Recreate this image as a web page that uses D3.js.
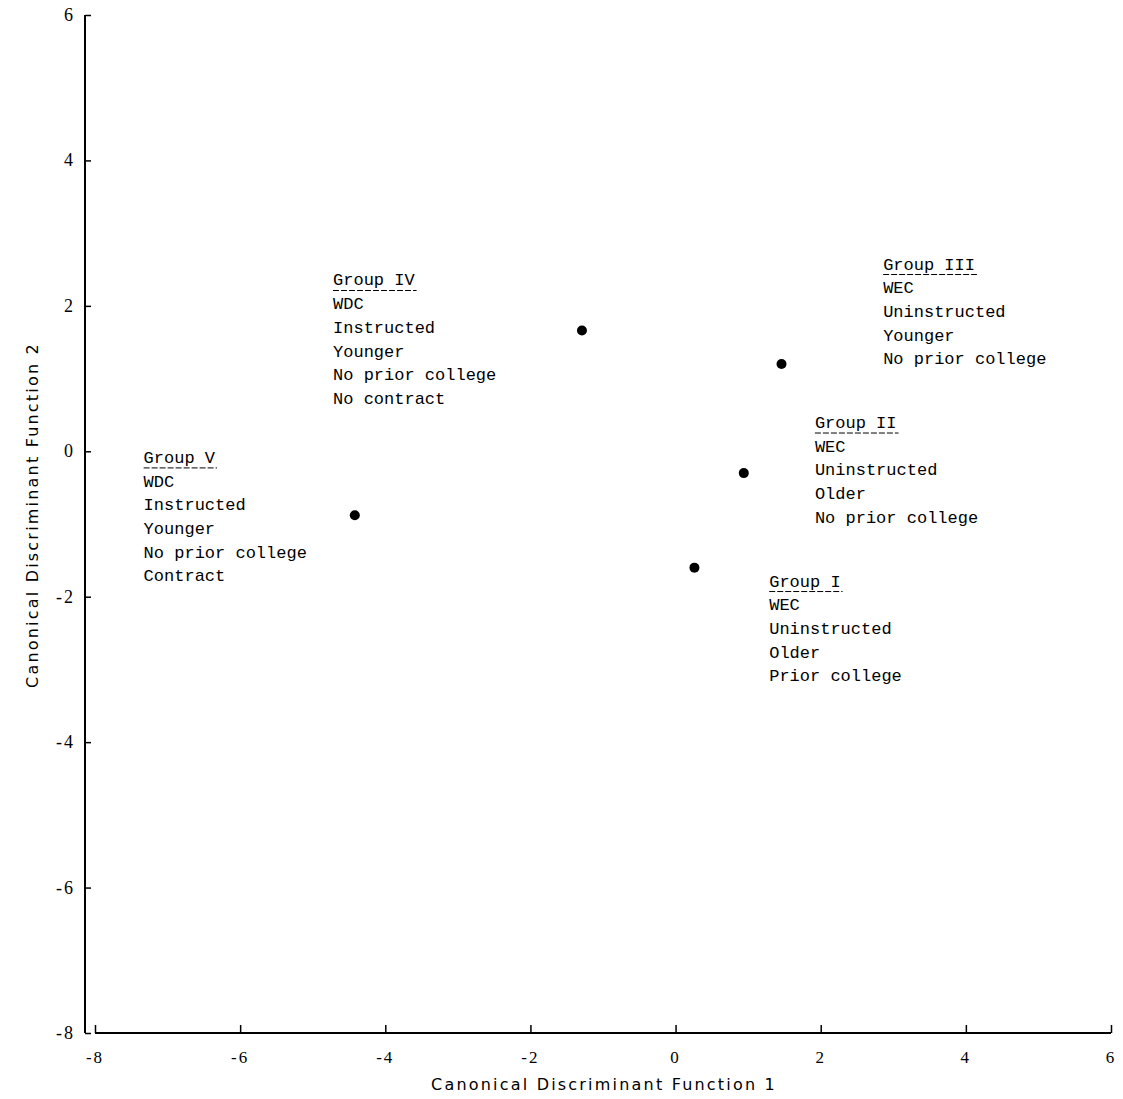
<!DOCTYPE html>
<meta charset="utf-8">

<!-- Load d3.js -->
<script src="https://d3js.org/d3.v7.min.js"></script>

<style>
  body { margin: 0; background: #fff; }
</style>

<!-- Create a div where the graph will take place -->
<div id="my_dataviz"></div>

<script>
// Window size
const width = 1123;
const height = 1099;

// Group centroids (function 1, function 2)
const groups = ["Group IV", "Group III", "Group II", "Group I", "Group V"];
const fn1 = [-1.29, 1.46, 0.94, 0.26, -4.42];
const fn2 = [1.66, 1.20, -0.30, -1.60, -0.88];

// Label anchor (data units) and text lines for each group
const labelX = [-4.72, 2.86, 1.92, 1.29, -7.33];
const labelY = [2.28, 2.50, 0.32, -1.86, -0.16];
const labelLines = [
  ["WDC", "Instructed", "Younger", "No prior college", "No contract"],
  ["WEC", "Uninstructed", "Younger", "No prior college"],
  ["WEC", "Uninstructed", "Older", "No prior college"],
  ["WEC", "Uninstructed", "Older", "Prior college"],
  ["WDC", "Instructed", "Younger", "No prior college", "Contract"]
];

// Tick labels
const xTicks = [-8, -6, -4, -2, 0, 2, 4, 6];
const yTicks = [-8, -6, -4, -2, 0, 2, 4, 6];

const svg = d3.select("#my_dataviz")
  .append("svg")
    .attr("width", width)
    .attr("height", height);

// Scales
const x = d3.scaleLinear().domain([-8, 6]).range([95, 1111]);
const y = d3.scaleLinear().domain([-8, 6]).range([1033, 15]);

const tickFont = "'Liberation Serif', 'DejaVu Serif', serif";
const typeFont = "'Liberation Mono', 'DejaVu Sans Mono', monospace";
const fmt = d => d < 0 ? "-" + Math.abs(d) : d;

// Y axis
const yAxis = svg.append("g")
  .attr("transform", `translate(${x(-8) - 10},0)`)
  .call(d3.axisRight(y).tickValues(yTicks).tickSize(6).tickFormat(""));
yAxis.select(".domain").attr("stroke-width", 2).attr("d", `M0,${y(6)}V${y(-8)}`);
yAxis.selectAll(".tick line").attr("stroke-width", 1.5);

svg.append("g")
  .selectAll("text")
  .data(yTicks)
  .join("text")
    .attr("x", x(-8) - 20)
    .attr("y", d => y(d) + 6)
    .attr("text-anchor", "end")
    .style("font-family", tickFont)
    .style("font-size", "18px")
    .style("letter-spacing", "2px")
    .style("fill", "black")
    .text(fmt);

// X axis
const xAxis = svg.append("g")
  .attr("transform", `translate(0,${y(-8)})`)
  .call(d3.axisTop(x).tickValues(xTicks).tickSize(8).tickFormat(""));
xAxis.select(".domain").attr("stroke-width", 2).attr("d", `M${x(-8)},0H${x(6)}`);
xAxis.selectAll(".tick line").attr("stroke-width", 1.5);

svg.append("g")
  .selectAll("text")
  .data(xTicks)
  .join("text")
    .attr("x", d => x(d))
    .attr("y", y(-8) + 30)
    .attr("text-anchor", "middle")
    .style("font-family", tickFont)
    .style("font-size", "17px")
    .style("letter-spacing", "2px")
    .style("fill", "black")
    .text(fmt);

// Axis titles
svg.append("text")
  .attr("x", 604)
  .attr("y", 1090)
  .attr("text-anchor", "middle")
  .style("font-family", "'DejaVu Sans', sans-serif")
  .style("font-size", "16px")
  .style("letter-spacing", "2.2px")
  .text("Canonical Discriminant Function 1");

svg.append("text")
  .attr("transform", "translate(38,515) rotate(-90)")
  .attr("text-anchor", "middle")
  .style("font-family", "'DejaVu Sans', sans-serif")
  .style("font-size", "16px")
  .style("letter-spacing", "2.2px")
  .text("Canonical Discriminant Function 2");

// Centroid points
svg.append("g")
  .selectAll("circle")
  .data(groups)
  .join("circle")
    .attr("cx", (d, i) => x(fn1[i]))
    .attr("cy", (d, i) => y(fn2[i]))
    .attr("r", 5)
    .style("fill", "black");

// Group labels
const lineH = 23.7;
const label = svg.append("g")
  .selectAll("g")
  .data(groups)
  .join("g")
    .attr("transform", (d, i) => `translate(${x(labelX[i])},${y(labelY[i])})`)
    .style("font-family", typeFont)
    .style("font-size", "17px");

label.append("text")
  .attr("x", 0)
  .attr("y", 0)
  .text(d => d);

label.append("line")
  .attr("x1", 0)
  .attr("x2", d => d.length * 10.2 + 2)
  .attr("y1", 5)
  .attr("y2", 5)
  .attr("stroke", "black")
  .attr("stroke-width", 1)
  .attr("stroke-dasharray", "6,2");

label.each(function(d, i) {
  d3.select(this).selectAll(".ln")
    .data(labelLines[i])
    .join("text")
      .attr("class", "ln")
      .attr("x", 0)
      .attr("y", (t, j) => (j + 1) * lineH)
      .text(t => t);
});
</script>
